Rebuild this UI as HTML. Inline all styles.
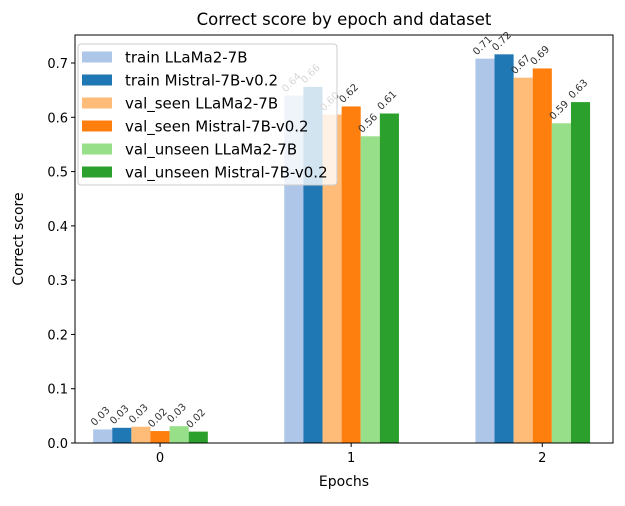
<!DOCTYPE html>
<html><head><meta charset="utf-8"><style>
body{margin:0;background:#fff;font-family:"DejaVu Sans","Liberation Sans",sans-serif}
svg text{font-family:"DejaVu Sans","Liberation Sans",sans-serif}
</style></head><body>
<svg id="chart" width="625" height="502" xmlns="http://www.w3.org/2000/svg"></svg>
<script>
const epochs = [0, 1, 2];
const seriesNames = ["train LLaMa2-7B","train Mistral-7B-v0.2","val_seen LLaMa2-7B","val_seen Mistral-7B-v0.2","val_unseen LLaMa2-7B","val_unseen Mistral-7B-v0.2"];
const trainLlama = [0.025, 0.640, 0.708];
const trainMistral = [0.028, 0.656, 0.716];
const seenLlama = [0.030, 0.605, 0.673];
const seenMistral = [0.022, 0.620, 0.690];
const unseenLlama = [0.031, 0.565, 0.589];
const unseenMistral = [0.021, 0.607, 0.628];
const yTicks = [0, 0.1, 0.2, 0.3, 0.4, 0.5, 0.6, 0.7];
const colors = ["#aec7e8","#1f77b4","#ffbb78","#ff7f0e","#98df8a","#2ca02c"];
const series = [trainLlama, trainMistral, seenLlama, seenMistral, unseenLlama, unseenMistral];

const NS = "http://www.w3.org/2000/svg";
const svg = document.getElementById("chart");
const L = 75, R = 613, T = 35, B = 443;
const xMin = -0.445, xMax = 2.37, yMax = 0.7516;
const xs = v => L + (v - xMin) / (xMax - xMin) * (R - L);
const ys = v => B - v / yMax * (B - T);
const W = 0.1;
function el(tag, attrs, parent) {
  const e = document.createElementNS(NS, tag);
  for (const k in attrs) e.setAttribute(k, attrs[k]);
  (parent || svg).appendChild(e);
  return e;
}
series.forEach((vals, si) => {
  vals.forEach((v, ei) => {
    const x0 = xs(epochs[ei] + (si - 3.5) * W), x1 = xs(epochs[ei] + (si - 2.5) * W);
    const r = el("rect", {x: x0, y: ys(v), width: x1 - x0, height: ys(0) - ys(v), fill: colors[si]});
    
    
    const cx = (x0 + x1) / 2, cy = ys(v) - 3;
    const t = el("text", {x: cx - 8, y: cy, "font-size": 10, fill: "#333", transform: `rotate(-45 ${cx - 8} ${cy})`});
    t.textContent = v.toFixed(2);
    
    
  });
});
const frame = el("rect", {x: L, y: T, width: R - L, height: B - T, fill: "none", stroke: "#000", "stroke-width": 1});


yTicks.forEach(v => {
  el("line", {x1: L - 4, x2: L, y1: ys(v), y2: ys(v), stroke: "#000"});
  const t = el("text", {x: L - 7, y: ys(v) + 5, "font-size": 13, "text-anchor": "end"});
  t.textContent = v.toFixed(1);
  
  
});
epochs.forEach(e => {
  el("line", {x1: xs(e), x2: xs(e), y1: B, y2: B + 4, stroke: "#000"});
  const t = el("text", {x: xs(e), y: B + 19, "font-size": 13, "text-anchor": "middle"});
  t.textContent = e;
  
  
});
let t = el("text", {x: (L + R) / 2, y: B + 43, "font-size": 14, "text-anchor": "middle"});
t.textContent = "Epochs";
 
t = el("text", {x: 23, y: (T + B) / 2, "font-size": 14, "text-anchor": "middle", transform: `rotate(-90 23 ${(T + B) / 2})`});
t.textContent = "Correct score";
 
t = el("text", {x: (L + R) / 2, y: 25, "font-size": 16.5, "text-anchor": "middle"});
t.textContent = "Correct score by epoch and dataset";
 
const lg = el("g", {});
 
el("rect", {x: 78, y: 44, width: 259, height: 141, rx: 3, fill: "rgba(255,255,255,0.8)", stroke: "#ccc"}, lg);
seriesNames.forEach((n, i) => {
  const y = 57 + i * 23;
  const p = el("rect", {x: 82, y: y - 5.5, width: 30, height: 11, fill: colors[i]}, lg);
   
  const tx = el("text", {x: 125, y: y + 5.5, "font-size": 15}, lg);
  tx.textContent = n;
   
});
</script>
</body></html>
